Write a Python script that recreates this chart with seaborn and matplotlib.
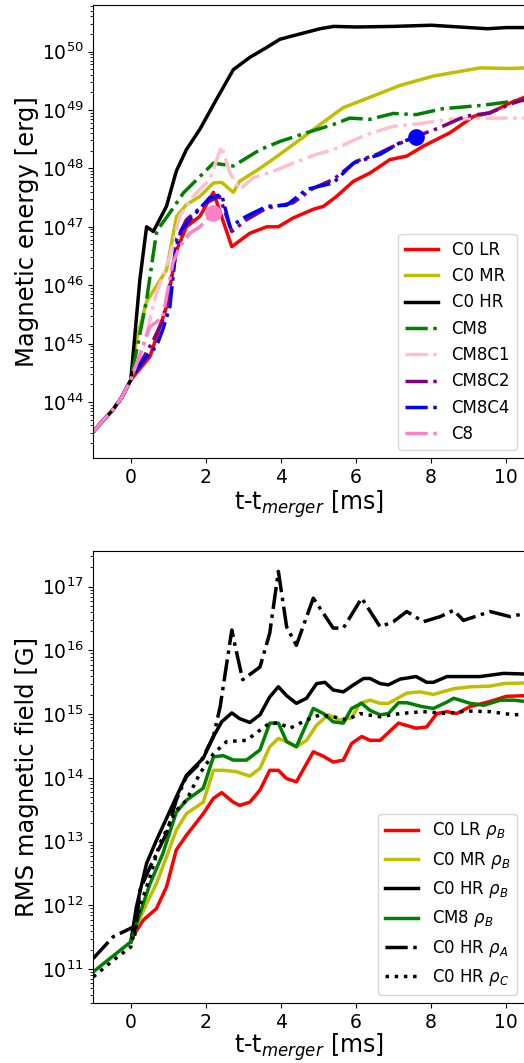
import numpy as np
import pandas as pd
import matplotlib
matplotlib.use('Agg')
import matplotlib.pyplot as plt
import seaborn as sns

# ---- top panel: magnetic energy, log10(E/erg) ----
t_pre = [-1, -0.75, -0.5, -0.25, 0]
e_pre = [43.49, 43.68, 43.85, 44.07, 44.38]

t_lr = [0.51, 0.95, 1.22, 1.48, 1.84, 2.2, 2.69, 3.17, 3.62, 3.93, 4.32, 4.86, 5.13, 5.48, 5.93, 6.37, 6.9, 7.35, 7.79, 8.5, 9.13, 9.57, 10.1, 10.5]
e_lr = [44.78, 45.63, 46.6, 47.0, 47.18, 47.59, 46.66, 46.89, 47.0, 47.0, 47.15, 47.3, 47.35, 47.52, 47.78, 47.92, 48.15, 48.21, 48.38, 48.61, 48.89, 48.95, 49.12, 49.22]

t_mr = [0.15, 0.42, 0.95, 1.22, 1.48, 1.84, 2.2, 2.42, 2.73, 2.9, 3.44, 3.97, 4.5, 5.04, 5.66, 6.46, 7.17, 8.06, 8.86, 9.3, 10.1, 10.5]
e_mr = [45.06, 45.72, 46.26, 47.18, 47.38, 47.52, 47.75, 47.76, 47.59, 47.78, 48.0, 48.24, 48.49, 48.75, 49.04, 49.24, 49.42, 49.58, 49.67, 49.72, 49.71, 49.72]

t_hr = [0.24, 0.42, 0.6, 0.95, 1.21, 1.48, 1.84, 2.28, 2.73, 3.17, 3.62, 3.97, 4.5, 5.04, 5.4, 6.0, 7.0, 8.0, 9.0, 9.5, 10.0, 10.5]
e_hr = [46.09, 47.0, 46.92, 47.35, 47.95, 48.32, 48.67, 49.18, 49.69, 49.9, 50.07, 50.21, 50.3, 50.39, 50.43, 50.42, 50.43, 50.45, 50.41, 50.39, 50.41, 50.41]

t_cm8 = [0.42, 0.68, 0.77, 1.04, 1.4, 1.84, 2.2, 2.73, 3.44, 3.97, 4.68, 5.39, 5.83, 6.37, 6.99, 7.6, 8.3, 9.37, 10.2, 10.5]
e_cm8 = [45.75, 46.89, 47.0, 47.24, 47.58, 47.86, 48.09, 48.04, 48.32, 48.46, 48.61, 48.75, 48.86, 48.84, 48.94, 48.92, 49.02, 49.08, 49.15, 49.16]

t_c1 = [0.33, 0.68, 1.04, 1.3, 1.66, 2.1, 2.42, 2.64, 2.9, 3.26, 3.8, 4.32, 4.95, 5.39, 6.28, 6.99, 7.6, 8.5, 9.37, 10.5]
e_c1 = [44.95, 45.86, 46.49, 47.18, 47.52, 47.81, 48.38, 47.92, 47.64, 47.84, 47.95, 48.09, 48.24, 48.32, 48.58, 48.72, 48.76, 48.84, 48.86, 48.86]

t_c2 = [0.6, 0.85, 1.12, 1.22, 1.48, 2.0, 2.36, 2.69, 3.08, 3.62, 4.32, 4.86, 5.39, 6.0, 6.55, 7.0, 7.6, 8.2, 8.9, 9.55, 10.2, 10.5]
e_c2 = [45.06, 45.4, 46.26, 46.78, 47.12, 47.41, 47.52, 46.92, 47.12, 47.32, 47.41, 47.66, 47.81, 48.12, 48.24, 48.38, 48.55, 48.69, 48.89, 48.95, 49.12, 49.18]

t_c4 = [0.1, 0.42, 0.68, 0.85, 1.04, 1.21, 1.35, 1.66, 2.1, 2.42, 2.64, 3.08, 3.62, 4.15, 4.68, 5.39, 5.93, 6.64, 7.17, 7.6]
e_c4 = [44.5, 44.78, 44.95, 45.24, 45.63, 46.66, 46.95, 47.18, 47.5, 47.55, 47.0, 47.18, 47.35, 47.37, 47.64, 47.75, 48.09, 48.24, 48.44, 48.54]

t_c8 = [0.51, 0.85, 1.12, 1.3, 1.57, 1.84, 2.2]
e_c8 = [45.29, 45.45, 46.38, 46.66, 46.89, 47.0, 47.24]

# ---- bottom panel: RMS magnetic field, log10(B/G) ----
tb_lr = [0, 0.1, 0.33, 0.68, 0.95, 1.21, 1.48, 1.93, 2.2, 2.42, 2.73, 2.9, 3.17, 3.44, 3.7, 3.93, 4.15, 4.41, 4.86, 5.13, 5.39, 5.66, 5.88, 6.15, 6.37, 6.64, 7.13, 7.6, 7.88, 8.15, 8.42, 8.68, 9.04, 9.57, 10.0, 10.5]
b_lr = [11.43, 11.56, 11.77, 11.95, 12.29, 12.87, 13.1, 13.44, 13.68, 13.77, 13.62, 13.57, 13.62, 13.81, 14.12, 14.12, 13.99, 13.94, 14.41, 14.34, 14.25, 14.28, 14.54, 14.65, 14.59, 14.59, 14.86, 14.78, 14.8, 15.01, 15.04, 15.01, 15.12, 15.2, 15.28, 15.29]

tb_mr = [0, 0.13, 0.42, 0.68, 0.95, 1.21, 1.48, 1.93, 2.2, 2.46, 2.8, 3.17, 3.44, 3.7, 3.93, 4.15, 4.41, 4.68, 4.95, 5.26, 5.57, 5.88, 6.1, 6.37, 6.64, 6.86, 7.35, 7.7, 8.06, 8.6, 9.04, 9.57, 9.93, 10.5]
b_mr = [11.43, 11.66, 12.03, 12.34, 12.76, 13.18, 13.44, 13.62, 14.12, 14.12, 14.1, 14.03, 14.15, 14.49, 14.62, 14.57, 14.49, 14.59, 14.83, 14.99, 14.91, 14.94, 15.17, 15.22, 15.17, 15.17, 15.33, 15.35, 15.31, 15.4, 15.43, 15.44, 15.48, 15.49]

tb_hr = [0, 0.15, 0.42, 0.68, 1.21, 1.48, 1.93, 2.2, 2.42, 2.69, 2.9, 3.17, 3.44, 3.7, 3.93, 4.15, 4.41, 4.68, 4.95, 5.17, 5.39, 5.66, 5.93, 6.2, 6.37, 6.64, 6.86, 7.17, 7.6, 7.88, 8.06, 8.42, 8.95, 9.3, 9.93, 10.5]
b_hr = [11.43, 11.98, 12.66, 13.02, 13.7, 14.04, 14.31, 14.65, 14.88, 15.02, 14.93, 14.87, 14.99, 15.27, 15.43, 15.29, 15.17, 15.25, 15.48, 15.5, 15.38, 15.35, 15.46, 15.56, 15.56, 15.48, 15.46, 15.55, 15.59, 15.5, 15.5, 15.59, 15.59, 15.59, 15.64, 15.63]

tb_cm8 = [-1, 0, 0.24, 0.51, 0.85, 1.21, 1.48, 1.93, 2.2, 2.46, 2.73, 3.08, 3.44, 3.7, 3.93, 4.15, 4.41, 4.86, 5.13, 5.39, 5.66, 5.88, 6.15, 6.37, 6.64, 6.86, 7.13, 7.35, 7.75, 8.06, 8.42, 8.6, 9.04, 9.4, 9.84, 10.2, 10.5]
b_cm8 = [10.96, 11.43, 11.87, 12.34, 12.81, 13.46, 13.65, 13.84, 14.33, 14.35, 14.28, 14.28, 14.44, 14.86, 14.86, 14.57, 14.49, 15.09, 15.01, 14.88, 14.86, 15.09, 15.17, 15.06, 14.99, 15.01, 15.18, 15.18, 15.12, 15.09, 15.19, 15.25, 15.17, 15.14, 15.22, 15.22, 15.2]

tb_a = [-1, -0.47, 0.06, 0.12, 0.24, 0.51, 0.95, 1.21, 1.48, 1.84, 2.2, 2.38, 2.69, 2.76, 2.98, 3.44, 3.7, 3.93, 4.15, 4.41, 4.86, 5.39, 5.66, 6.15, 6.64, 6.99, 7.35, 7.79, 8.24, 8.6, 8.86, 9.57, 10.1, 10.5]
b_a = [11.17, 11.51, 11.66, 11.55, 12.24, 12.6, 13.13, 13.65, 14.02, 14.23, 14.65, 15.12, 16.32, 16.12, 15.54, 15.74, 16.27, 17.24, 16.37, 16.08, 16.82, 16.35, 16.35, 16.82, 16.37, 16.45, 16.61, 16.45, 16.53, 16.63, 16.47, 16.61, 16.53, 16.58]

tb_c = [-1, -0.47, 0, 0.24, 0.51, 0.77, 1.21, 1.48, 1.84, 2.2, 2.55, 3.08, 3.44, 3.7, 3.93, 4.24, 4.68, 5.04, 5.39, 5.75, 6.1, 6.64, 7.17, 7.79, 8.42, 8.95, 9.57, 10.2, 10.5]
b_c = [10.88, 11.14, 11.35, 11.98, 12.45, 12.97, 13.49, 13.65, 14.07, 14.38, 14.57, 14.59, 14.75, 14.86, 14.86, 14.78, 14.91, 14.99, 14.96, 14.91, 15.01, 14.96, 15.01, 15.04, 15.01, 15.05, 15.04, 14.99, 15.0]

top_series = [
    ('C0 LR', t_lr, e_lr, 'r', '-'),
    ('C0 MR', t_mr, e_mr, 'y', '-'),
    ('C0 HR', t_hr, e_hr, 'k', '-'),
    ('CM8', t_cm8, e_cm8, 'g', '-.'),
    ('CM8C1', t_c1, e_c1, 'pink', '-.'),
    ('CM8C2', t_c2, e_c2, 'purple', '-.'),
    ('CM8C4', t_c4, e_c4, 'b', '-.'),
    ('C8', t_c8, e_c8, '#ff80c8', '-.'),
]

bottom_series = [
    (r'C0 LR $\rho_B$', tb_lr, b_lr, 'r', '-'),
    (r'C0 MR $\rho_B$', tb_mr, b_mr, 'y', '-'),
    (r'C0 HR $\rho_B$', tb_hr, b_hr, 'k', '-'),
    (r'CM8 $\rho_B$', tb_cm8, b_cm8, 'g', '-'),
    (r'C0 HR $\rho_A$', tb_a, b_a, 'k', '-.'),
    (r'C0 HR $\rho_C$', tb_c, b_c, 'k', ':'),
]

plt.rcParams['font.family'] = ['DejaVu Sans']
fig = plt.figure(figsize=(5.24, 10.63), dpi=100)
ax1 = fig.add_axes([0.178, 0.569, 0.824, 0.4265])
ax2 = fig.add_axes([0.178, 0.0564, 0.824, 0.4253])

lw = 2.5

# top panel
for name, t, e, c, ls in top_series:
    df = pd.DataFrame({'t': t_pre + t, 'E': 10 ** np.array(e_pre + e)})
    sns.lineplot(data=df, x='t', y='E', ax=ax1, color=c, linestyle=ls, lw=lw,
                 label=name, estimator=None, sort=False)

# end markers for the runs that stop early
ax1.plot(t_c4[-1], 10 ** e_c4[-1], 'o', color='b', ms=11)
ax1.plot(t_c8[-1], 10 ** e_c8[-1], 'o', color='#ff80c8', ms=11)

ax1.set_yscale('log')
ax1.set_xlim(-1, 10.5)
ax1.set_ylim(10 ** 43.04, 10 ** 50.8)
ax1.set_xticks([0, 2, 4, 6, 8, 10])
ax1.set_xlabel(r't-t$_{merger}$ [ms]', fontsize=17, labelpad=1)
ax1.set_ylabel('Magnetic energy [erg]', fontsize=17.5, labelpad=2)
ax1.tick_params(labelsize=13.5)
ax1.legend(loc='lower right', fontsize=12)

# bottom panel
for name, t, b, c, ls in bottom_series:
    df = pd.DataFrame({'t': t, 'B': 10 ** np.array(b)})
    sns.lineplot(data=df, x='t', y='B', ax=ax2, color=c, linestyle=ls, lw=lw,
                 label=name, estimator=None, sort=False)

ax2.set_yscale('log')
ax2.set_xlim(-1, 10.5)
ax2.set_ylim(10 ** 10.47, 10 ** 17.56)
ax2.set_xticks([0, 2, 4, 6, 8, 10])
ax2.set_xlabel(r't-t$_{merger}$ [ms]', fontsize=17, labelpad=0)
ax2.set_ylabel('RMS magnetic field [G]', fontsize=17.5, labelpad=2)
ax2.tick_params(labelsize=13.5)
ax2.legend(loc='lower right', fontsize=12)

fig.savefig('out.png', dpi=100)
